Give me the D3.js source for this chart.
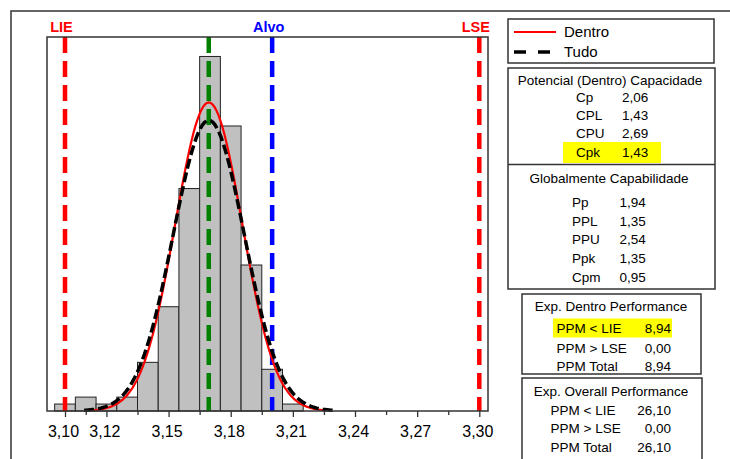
<!DOCTYPE html>
<html>
<head>
<meta charset="utf-8">
<script src="https://cdn.jsdelivr.net/npm/d3@7"></script>
<style>
  html, body { margin: 0; padding: 0; background: #fff; }
  svg { display: block; font-family: "Liberation Sans", Arial, sans-serif; }
</style>
</head>
<body>
<div id="chart"></div>
<script>
// histogram bins (centres) and counts
const binCenters = [3.10, 3.11, 3.12, 3.13, 3.14, 3.15, 3.16, 3.17, 3.18, 3.19, 3.20, 3.21];
const binCounts = [1, 2, 1, 2, 7, 15, 32, 51, 41, 21, 6, 1];
const binWidth = 0.01;

// spec lines
const specNames = ['LIE', 'Alvo', 'LSE'];
const specValues = [3.10, 3.20, 3.30];
const specColors = ['#ff0000', '#0000ff', '#ff0000'];

// fitted normal curves
const processMean = 3.1694;
const curveNames = ['Dentro', 'Tudo'];
const curveSigmas = [0.01618, 0.01718];

// x axis
const majorTicks = [3.10, 3.12, 3.15, 3.18, 3.21, 3.24, 3.27, 3.30];
const majorLabels = ['3,10', '3,12', '3,15', '3,18', '3,21', '3,24', '3,27', '3,30'];
const minorTicks = [3.11, 3.135, 3.165, 3.195, 3.225, 3.255, 3.285];

// stats tables
const potLabels = ['Cp', 'CPL', 'CPU', 'Cpk'];
const potValues = ['2,06', '1,43', '2,69', '1,43'];
const globLabels = ['Pp', 'PPL', 'PPU', 'Ppk', 'Cpm'];
const globValues = ['1,94', '1,35', '2,54', '1,35', '0,95'];
const withinLabels = ['PPM < LIE', 'PPM > LSE', 'PPM Total'];
const withinValues = ['8,94', '0,00', '8,94'];
const overallLabels = ['PPM < LIE', 'PPM > LSE', 'PPM Total'];
const overallValues = ['26,10', '0,00', '26,10'];

const W = 730, H = 459;
const INK = '#333';
const svg = d3.select('#chart').append('svg').attr('width', W).attr('height', H);

// outer frame (runs off the right/bottom)
svg.append('rect').attr('x', 11).attr('y', 11).attr('width', 740).attr('height', 470)
  .attr('fill', 'none').attr('stroke', INK).attr('stroke-width', 1.5);

const L = 47, R = 488, T = 37, B = 411;
const x = d3.scaleLinear().domain([3.10 - 18 / 2071.5, 3.30 + 8.7 / 2071.5]).range([L, R]);
const y = d3.scaleLinear().domain([0, 53.8]).range([B, T]);

// bars
svg.append('g').selectAll('rect').data(binCenters).join('rect')
  .attr('x', d => x(d - binWidth / 2))
  .attr('width', d => x(d + binWidth / 2) - x(d - binWidth / 2))
  .attr('y', (d, i) => y(binCounts[i]))
  .attr('height', (d, i) => B - y(binCounts[i]))
  .attr('fill', '#c0c0c0').attr('stroke', '#222').attr('stroke-width', 1);

// spec lines + labels
specValues.forEach((v, i) => {
  svg.append('line').attr('x1', x(v)).attr('x2', x(v)).attr('y1', T).attr('y2', B)
    .attr('stroke', specColors[i]).attr('stroke-width', 4.5).attr('stroke-dasharray', '16,8');
  svg.append('text').attr('x', x(v) - 3.5).attr('y', 32).attr('text-anchor', 'middle')
    .attr('font-weight', 'bold').attr('font-size', 14.5).attr('fill', specColors[i]).text(specNames[i]);
});

// mean line
svg.append('line').attr('x1', x(processMean)).attr('x2', x(processMean)).attr('y1', T).attr('y2', B)
  .attr('stroke', '#008000').attr('stroke-width', 4.5).attr('stroke-dasharray', '16,8');

// normal curves scaled to counts
const N = d3.sum(binCounts);
function curvePts(sigma) {
  const pts = [];
  for (let k = 0; k <= 120; k++) {
    const v = processMean - 3.5 * sigma + k * 7 * sigma / 120;
    const dens = Math.exp(-0.5 * ((v - processMean) / sigma) ** 2) / (sigma * Math.sqrt(2 * Math.PI));
    pts.push([v, dens * N * binWidth]);
  }
  return pts;
}
const line = d3.line().x(d => x(d[0])).y(d => y(d[1]));
svg.append('path').attr('d', line(curvePts(curveSigmas[0])))
  .attr('fill', 'none').attr('stroke', '#ff0000').attr('stroke-width', 2.2);
svg.append('path').attr('d', line(curvePts(curveSigmas[1])))
  .attr('fill', 'none').attr('stroke', '#000').attr('stroke-width', 3.5).attr('stroke-dasharray', '10,4');

// plot frame
svg.append('rect').attr('x', L).attr('y', T).attr('width', R - L).attr('height', B - T)
  .attr('fill', 'none').attr('stroke', INK).attr('stroke-width', 1.5);

// x axis
const ax = svg.append('g').attr('transform', `translate(0,${B})`)
  .call(d3.axisBottom(x).tickValues(majorTicks).tickSize(6).tickFormat((d, i) => majorLabels[i]));
ax.select('.domain').remove();
ax.selectAll('line').attr('stroke', INK).attr('stroke-width', 1.3);
ax.selectAll('text').attr('y', 26).attr('dy', null).attr('dx', -2)
  .attr('font-size', 16).attr('font-family', '"Liberation Sans", Arial, sans-serif').attr('fill', '#000');
const axm = svg.append('g').attr('transform', `translate(0,${B})`)
  .call(d3.axisBottom(x).tickValues(minorTicks).tickSize(4).tickFormat(''));
axm.select('.domain').remove();
axm.selectAll('line').attr('stroke', INK).attr('stroke-width', 1.3);

// right panel boxes
function box(x0, y0, x1, y1) {
  svg.append('rect').attr('x', x0).attr('y', y0).attr('width', x1 - x0).attr('height', y1 - y0)
    .attr('fill', 'none').attr('stroke', INK).attr('stroke-width', 1.5);
}
function txt(tx, ty, s, opts = {}) {
  return svg.append('text').attr('x', tx).attr('y', ty).attr('font-size', opts.size || 13.5)
    .attr('text-anchor', opts.anchor || 'start').attr('fill', '#000').text(s);
}

// legend
box(508, 19, 714, 63);
svg.append('line').attr('x1', 514).attr('x2', 556).attr('y1', 32).attr('y2', 32)
  .attr('stroke', '#ff0000').attr('stroke-width', 2.2);
svg.append('line').attr('x1', 514).attr('x2', 556).attr('y1', 52).attr('y2', 52)
  .attr('stroke', '#000').attr('stroke-width', 3.5).attr('stroke-dasharray', '12,12');
txt(564, 37, curveNames[0], { size: 15 });
txt(564, 57, curveNames[1], { size: 15 });

// potential / overall capability
box(508, 68, 715, 289);
svg.append('line').attr('x1', 508).attr('x2', 715).attr('y1', 164.5).attr('y2', 164.5)
  .attr('stroke', INK).attr('stroke-width', 1.5);
txt(610, 84.5, 'Potencial (Dentro) Capacidade', { anchor: 'middle' });
svg.append('rect').attr('x', 563).attr('y', 142).attr('width', 98).attr('height', 21).attr('fill', '#ffff00');
const potY = [101.5, 119.5, 137.5, 157];
potLabels.forEach((s, i) => { txt(576, potY[i], s); txt(622, potY[i], potValues[i]); });

txt(609, 183, 'Globalmente Capabilidade', { anchor: 'middle' });
const globY = [206.5, 225.5, 243.5, 263, 282];
globLabels.forEach((s, i) => { txt(572, globY[i], s); txt(619.5, globY[i], globValues[i]); });

// expected performance
box(522, 294, 701, 374);
txt(611, 310.5, 'Exp. Dentro Performance', { anchor: 'middle' });
svg.append('rect').attr('x', 553).attr('y', 318.5).attr('width', 119).attr('height', 19).attr('fill', '#ffff00');
const withinY = [333, 353, 370.5];
withinLabels.forEach((s, i) => { txt(556.5, withinY[i], s); txt(671, withinY[i], withinValues[i], { anchor: 'end' }); });

box(522, 378, 702, 470);
txt(611, 395.5, 'Exp. Overall Performance', { anchor: 'middle' });
const overallY = [414.5, 432.5, 451.5];
overallLabels.forEach((s, i) => { txt(550.5, overallY[i], s); txt(671, overallY[i], overallValues[i], { anchor: 'end' }); });
</script>
</body>
</html>
